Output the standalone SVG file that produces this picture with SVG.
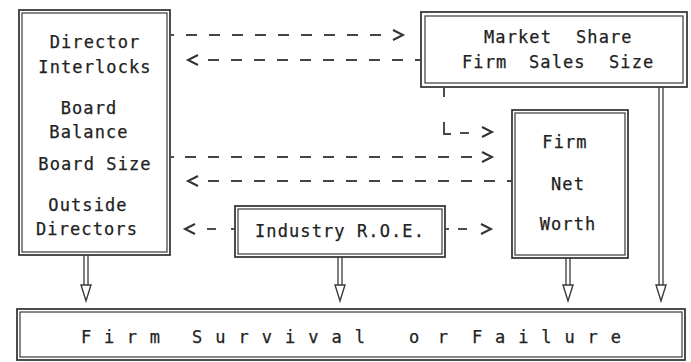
<svg xmlns="http://www.w3.org/2000/svg" width="691" height="362" viewBox="0 0 691 362">
  <style>
    .outer { fill: none; stroke: #3a3a3a; stroke-width: 1.8; }
    .inner { fill: none; stroke: #3a3a3a; stroke-width: 1.2; }
    .lbl { font-family: "DejaVu Sans Mono", "Liberation Mono", monospace; font-size: 17px; fill: #222; letter-spacing: 1.1px; stroke: #222; stroke-width: 0.25px; }
    .mid { text-anchor: middle; }
    .dash { stroke: #444; stroke-width: 1.9; stroke-dasharray: 11 12; fill: none; }
    .seg { stroke: #444; stroke-width: 1.9; fill: none; }
    .chev { stroke: #333; stroke-width: 2; fill: none; stroke-linejoin: miter; }
    .shaft { stroke: #3a3a3a; stroke-width: 1.3; fill: none; }
    .head { stroke: #3a3a3a; stroke-width: 1.4; fill: #fff; }
  </style>
  <defs>
    <polyline id="gt" points="-5,-5 5,0 -5,5" class="chev"/>
    <polyline id="lt" points="5,-5 -5,0 5,5" class="chev"/>
  </defs>
  <rect width="691" height="362" fill="#fff"/>

  <!-- board characteristics -->
  <g id="board">
    <rect class="outer" x="19" y="10" width="151" height="245"/>
    <rect class="inner" x="22" y="13" width="145" height="239"/>
    <text class="lbl mid" x="95" y="48">Director</text>
    <text class="lbl mid" x="95" y="73">Interlocks</text>
    <text class="lbl mid" x="89" y="114">Board</text>
    <text class="lbl mid" x="89" y="138">Balance</text>
    <text class="lbl mid" x="95" y="170">Board Size</text>
    <text class="lbl mid" x="88" y="211">Outside</text>
    <text class="lbl mid" x="87" y="235">Directors</text>
  </g>

  <!-- market share / sales size -->
  <g id="market">
    <rect class="outer" x="421" y="12" width="266" height="75"/>
    <rect class="inner" x="425" y="16" width="258" height="67"/>
    <text class="lbl" x="484" y="43">Market</text>
    <text class="lbl" x="576" y="43">Share</text>
    <text class="lbl" x="462" y="68">Firm</text>
    <text class="lbl" x="529" y="68">Sales</text>
    <text class="lbl" x="609" y="68">Size</text>
  </g>

  <!-- net worth -->
  <g id="networth">
    <rect class="outer" x="512" y="110" width="116" height="148"/>
    <rect class="inner" x="515" y="113" width="110" height="142"/>
    <text class="lbl mid" x="565" y="148">Firm</text>
    <text class="lbl mid" x="568" y="190">Net</text>
    <text class="lbl mid" x="568" y="230">Worth</text>
  </g>

  <!-- industry return on equity -->
  <g id="industry">
    <rect class="outer" x="235" y="206" width="210" height="51"/>
    <rect class="inner" x="238" y="209" width="204" height="45"/>
    <text class="lbl mid" x="340" y="237">Industry R.O.E.</text>
  </g>

  <!-- outcome -->
  <g id="outcome">
    <rect class="outer" x="17" y="309" width="668" height="51"/>
    <rect class="inner" x="20" y="312" width="662" height="45"/>
    <text class="lbl" x="81" y="343" textLength="80" lengthAdjust="spacing">F i r m</text>
    <text class="lbl" x="192" y="343" textLength="174" lengthAdjust="spacing">S u r v i v a l</text>
    <text class="lbl" x="409" y="343" textLength="40" lengthAdjust="spacing">o r</text>
    <text class="lbl" x="472" y="343" textLength="150" lengthAdjust="spacing">F a i l u r e</text>
  </g>

  <g id="connectors">
    <!-- dashed links between board and market box -->
    <line class="seg" x1="170" y1="35" x2="174" y2="35"/>
    <line class="dash" x1="186" y1="35" x2="384" y2="35"/>
    <use href="#gt" x="398" y="35"/>
    <use href="#lt" x="193" y="60"/>
    <line class="dash" x1="208" y1="60" x2="421" y2="60"/>

    <!-- market box to net worth (L-shaped) -->
    <line class="seg" x1="444" y1="87" x2="444" y2="97"/>
    <polyline class="seg" points="444,122 444,134 451,134"/>
    <line class="seg" x1="460" y1="133" x2="469" y2="133"/>
    <use href="#gt" x="487" y="132"/>

    <!-- board size / net worth -->
    <line class="seg" x1="170" y1="157" x2="174" y2="157"/>
    <line class="dash" x1="185" y1="157" x2="478" y2="157"/>
    <use href="#gt" x="487" y="157"/>
    <use href="#lt" x="193" y="181"/>
    <line class="dash" x1="208" y1="181" x2="512" y2="181"/>

    <!-- industry R.O.E. links -->
    <use href="#lt" x="190" y="229"/>
    <line class="seg" x1="207" y1="229" x2="216" y2="229"/>
    <line class="seg" x1="231" y1="229" x2="235" y2="229"/>
    <line class="seg" x1="445" y1="229" x2="449" y2="229"/>
    <line class="seg" x1="458" y1="229" x2="467" y2="229"/>
    <use href="#gt" x="486" y="229"/>

    <!-- arrows into outcome -->
    <line class="shaft" x1="84" y1="255" x2="84" y2="285"/>
    <line class="shaft" x1="88" y1="255" x2="88" y2="285"/>
    <polygon class="head" points="81,285 91,285 86,301"/>

    <line class="shaft" x1="338" y1="257" x2="338" y2="285"/>
    <line class="shaft" x1="342" y1="257" x2="342" y2="285"/>
    <polygon class="head" points="335,285 345,285 340,301"/>

    <line class="shaft" x1="566" y1="258" x2="566" y2="285"/>
    <line class="shaft" x1="570" y1="258" x2="570" y2="285"/>
    <polygon class="head" points="563,285 573,285 568,301"/>

    <line class="shaft" x1="659" y1="87" x2="659" y2="285"/>
    <line class="shaft" x1="663" y1="87" x2="663" y2="285"/>
    <polygon class="head" points="656,285 666,285 661,301"/>
  </g>
</svg>
